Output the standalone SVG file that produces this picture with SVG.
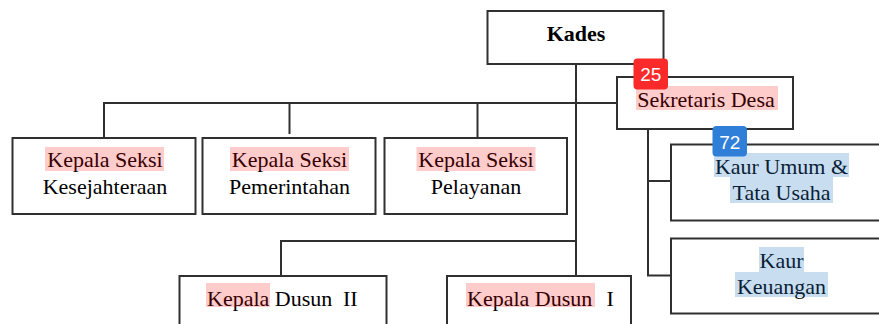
<svg xmlns="http://www.w3.org/2000/svg" width="879" height="324" viewBox="0 0 879 324">
<style>
.box{fill:#fff;stroke:#303030;stroke-width:2}
.ln{fill:none;stroke:#303030;stroke-width:2}
.t{font-family:"Liberation Serif","Times New Roman",serif;font-size:22px;fill:#000;text-anchor:middle}
.b{font-weight:bold}
.hr{fill:rgba(255,0,0,0.2)}
.hb{fill:rgba(40,120,200,0.25)}
.badge{font-family:"Liberation Sans",Arial,sans-serif;font-size:19px;fill:#fff;text-anchor:middle}
</style>
<rect width="879" height="324" fill="#fff"/>
<g id="connectors">
<path class="ln" d="M576 64 V276"/>
<path class="ln" d="M104 137 V103 H617"/>
<path class="ln" d="M289.5 103 V134"/>
<path class="ln" d="M477.5 103 V137"/>
<path class="ln" d="M281 276 V241 H576"/>
<path class="ln" d="M648 129 V275.5 H671"/>
<path class="ln" d="M648 181 H671"/>
</g>
<g id="kades">
<rect class="box" x="487.5" y="11" width="176" height="53"/>
<text class="t b" x="576" y="41">Kades</text>
</g>
<g id="sekretaris">
<rect class="box" x="617" y="77" width="176" height="52"/>
<text class="t" x="706" y="107">Sekretaris Desa</text>
<rect class="hr" x="636" y="86" width="142" height="24"/>
</g>
<g id="kasi-kesejahteraan">
<rect class="box" x="12.5" y="138" width="183" height="76"/>
<text class="t" x="105" y="167">Kepala Seksi</text>
<text class="t" x="105" y="194">Kesejahteraan</text>
<rect class="hr" x="45" y="147" width="119" height="24"/>
</g>
<g id="kasi-pemerintahan">
<rect class="box" x="202.5" y="138" width="173" height="76"/>
<text class="t" x="289.5" y="167">Kepala Seksi</text>
<text class="t" x="289.5" y="194">Pemerintahan</text>
<rect class="hr" x="230" y="147" width="119" height="24"/>
</g>
<g id="kasi-pelayanan">
<rect class="box" x="384.5" y="138" width="182.5" height="76"/>
<text class="t" x="476" y="167">Kepala Seksi</text>
<text class="t" x="476" y="194">Pelayanan</text>
<rect class="hr" x="416.5" y="147" width="119" height="24"/>
</g>
<g id="kaur-umum">
<rect class="box" x="671" y="144.5" width="220" height="76"/>
<text class="t" x="781.5" y="174">Kaur Umum &amp;</text>
<text class="t" x="781.5" y="200">Tata Usaha</text>
<rect class="hb" x="714" y="153" width="135" height="24"/>
<rect class="hb" x="730" y="177" width="103" height="26"/>
</g>
<g id="kaur-keuangan">
<rect class="box" x="671" y="238.5" width="220" height="75"/>
<text class="t" x="781.5" y="268">Kaur</text>
<text class="t" x="781.5" y="294">Keuangan</text>
<rect class="hb" x="759" y="247" width="45" height="25"/>
<rect class="hb" x="735" y="272" width="93" height="25"/>
</g>
<g id="kadus-2">
<rect class="box" x="179.5" y="276" width="207" height="60"/>
<text class="t" x="207" y="306" style="text-anchor:start">Kepala Dusun<tspan x="343">II</tspan></text>
<rect class="hr" x="206" y="283" width="64" height="24"/>
</g>
<g id="kadus-1">
<rect class="box" x="447" y="276" width="184" height="60"/>
<text class="t" x="467" y="306" style="text-anchor:start">Kepala Dusun<tspan x="606.5">I</tspan></text>
<rect class="hr" x="466" y="283" width="129" height="24"/>
</g>
<g id="badge-25">
<rect x="633.5" y="58.5" width="34.5" height="31" rx="4" fill="#fa2a2a"/>
<text class="badge" x="650.8" y="81">25</text>
</g>
<g id="badge-72">
<rect x="712.5" y="126" width="34.5" height="30.5" rx="4" fill="#2f7ed8"/>
<text class="badge" x="729.8" y="148.5">72</text>
</g>
</svg>
